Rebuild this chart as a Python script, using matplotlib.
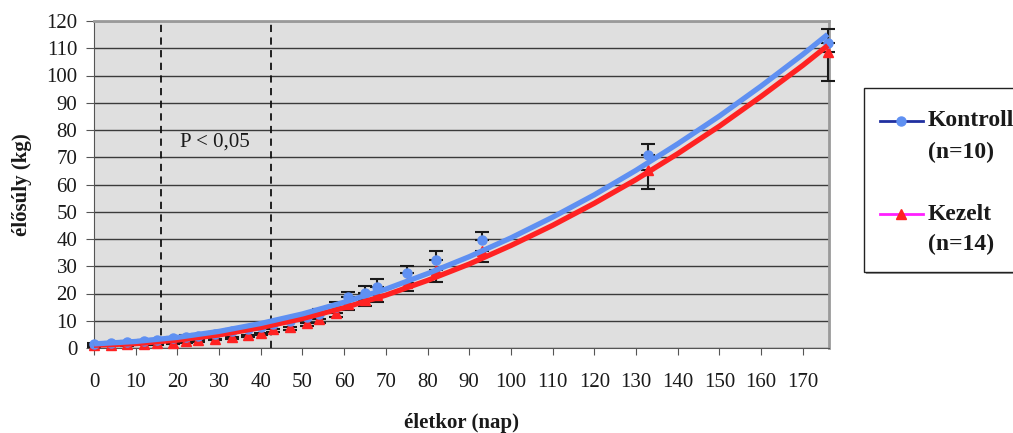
"""
Élősúly alakulása az életkor függvényében (Kontroll vs. Kezelt)
"""

import matplotlib
matplotlib.use('Agg')
import matplotlib.pyplot as plt
from matplotlib.patches import Rectangle
from matplotlib.lines import Line2D

plt.rcParams['font.family'] = ['Liberation Serif', 'DejaVu Serif']
plt.rcParams['font.size'] = 15

COLORS = {
    'blue': '#5F90F2',
    'red': '#FF2222',
    'navy': '#2030A0',
    'magenta': '#FF20FF',
    'plot_bg': '#DFDFDF',
    'grid': '#3A3A3A',
    'frame': '#9A9A9A',
    'text': '#1A1A1A',
}

# measurement days
days = [0, 4, 8, 12, 15, 19, 22, 25, 29, 33, 37, 40, 43, 47, 51, 54,
        58, 61, 65, 68, 75, 82, 93, 133, 176]

# mean body weight (kg)
kontroll = [1.5, 1.8, 2.1, 2.5, 2.9, 3.5, 4.0, 4.5, 5.3, 6.1, 7.0, 7.8,
            8.7, 10.0, 11.3, 12.5, 15.0, 18.7, 20.2, 22.4, 27.5, 32.3,
            39.6, 70.8, 112.0]
kezelt = [1.0, 1.2, 1.4, 1.6, 1.8, 2.0, 2.4, 2.8, 3.4, 3.9, 4.6, 5.6,
          7.0, 7.8, 9.2, 10.6, 12.8, 16.0, 17.5, 19.5, 24.0, 28.5,
          35.5, 65.3, 108.6]

# error (kg): Kontroll shown upwards, Kezelt downwards
kontroll_err = [0.4, 0.4, 0.4, 0.5, 0.5, 0.5, 0.6, 0.6, 0.7, 0.7, 0.8, 0.8,
                0.9, 1.0, 1.2, 1.8, 1.9, 1.9, 2.6, 2.9, 2.6, 3.3, 3.0,
                4.1, 5.0]
kezelt_err = [0.5, 0.5, 0.5, 0.5, 0.6, 0.6, 0.6, 0.6, 0.6, 0.7, 0.7, 0.8,
              1.0, 1.2, 1.2, 1.4, 1.4, 2.1, 2.2, 2.6, 3.0, 4.3, 4.0,
              7.0, 10.6]

# trendlines
trend_x = [0, 10, 20, 30, 40, 50, 60, 70, 80, 90, 100, 110, 120, 130,
           140, 150, 160, 170, 176]
trend_kontroll = [1.5, 2.4, 3.9, 6.1, 9.0, 12.5, 16.8, 21.6, 27.3, 33.5,
                  40.4, 48.0, 56.2, 65.2, 74.9, 85.1, 96.1, 107.7, 115.1]
trend_kezelt = [1.0, 1.6, 2.9, 4.8, 7.5, 10.8, 14.8, 19.4, 24.8, 30.8,
                37.6, 45.0, 53.1, 61.8, 71.3, 81.4, 92.3, 103.7, 111.0]

# significance window (days)
sig_window = [16, 42.5]

fig = plt.figure(figsize=(10.13, 4.33), dpi=100)
ax = fig.add_axes([94 / 1013, 1 - 348 / 433, 735 / 1013, 327 / 433])
ax.set_facecolor(COLORS['plot_bg'])

ax.set_xlim(0, 176.3)
ax.set_ylim(0, 120)
ax.set_xticks(range(0, 171, 10))
ax.set_yticks(range(0, 121, 10))
ax.yaxis.grid(True, color=COLORS['grid'], lw=1.0)
ax.set_axisbelow(True)

for side in ['top', 'right']:
    ax.spines[side].set_color(COLORS['frame'])
    ax.spines[side].set_linewidth(2)
ax.spines['left'].set_color('#555555')
ax.spines['bottom'].set_color('#555555')
ax.tick_params(axis='x', direction='out', length=5, pad=13, colors='#555555',
               labelcolor=COLORS['text'], labelsize=15)
ax.tick_params(axis='y', direction='out', length=6, pad=6, colors='#555555',
               labelcolor=COLORS['text'], labelsize=15)

# significance window
for x in sig_window:
    ax.axvline(x, color='#111111', lw=1.3, ls=(0, (4, 3)), zorder=2)
ax.text(29, 75.5, 'P < 0,05', ha='center', va='center', fontsize=15,
        color=COLORS['text'])

# error bars and markers
zeros = [0] * len(days)
ax.errorbar(days, kezelt, yerr=[kezelt_err, zeros], fmt='^', color=COLORS['red'],
            ms=7.5, ecolor='#1A1A1A', elinewidth=1.5, capsize=5, capthick=1.5,
            zorder=3, clip_on=False)
ax.errorbar(days, kontroll, yerr=[zeros, kontroll_err], fmt='o', color=COLORS['blue'],
            ms=6.5, ecolor='#1A1A1A', elinewidth=1.5, capsize=5, capthick=1.5,
            zorder=3, clip_on=False)

# trendlines
ax.plot(trend_x, trend_kezelt, color=COLORS['red'], lw=3.8, zorder=4,
        solid_capstyle='butt', clip_on=False)
ax.plot(trend_x, trend_kontroll, color=COLORS['blue'], lw=3.8, zorder=5,
        solid_capstyle='butt', clip_on=False)

ax.set_xlabel('életkor (nap)', fontsize=15, fontweight='bold',
              color=COLORS['text'], labelpad=15)
ax.set_ylabel('élősúly (kg)', fontsize=15, fontweight='bold',
              color=COLORS['text'], labelpad=10)

# legend box (drawn by hand, it runs off the right edge)
W, H = 1013, 433


def fx(px):
    return px / W


def fy(py):
    return 1 - py / H


fig.patches.append(Rectangle((fx(866), fy(274)), fx(200), 186 / H,
                             transform=fig.transFigure, facecolor='#999999',
                             edgecolor='none', zorder=1))
fig.patches.append(Rectangle((fx(864), fy(272)), fx(200), 184 / H,
                             transform=fig.transFigure, facecolor='white',
                             edgecolor='#222222', lw=1.0, zorder=2))

entries = [
    ('Kontroll', '(n=10)', COLORS['navy'], COLORS['blue'], 'o', 6.5, 121, 152),
    ('Kezelt', '(n=14)', COLORS['magenta'], COLORS['red'], '^', 7.5, 214, 244),
]
for name, n_text, line_c, mark_c, marker, ms, y1, y2 in entries:
    fig.add_artist(Line2D([fx(880), fx(923)], [fy(y1), fy(y1)], color=line_c,
                          lw=2, transform=fig.transFigure, zorder=3))
    fig.add_artist(Line2D([fx(901)], [fy(y1)], marker=marker, ms=ms, color=mark_c,
                          ls='none', transform=fig.transFigure, zorder=4))
    fig.text(fx(928), fy(y1), name, ha='left', va='center', fontsize=17,
             fontweight='bold', color=COLORS['text'], zorder=4)
    fig.text(fx(928), fy(y2), n_text, ha='left', va='center', fontsize=17,
             fontweight='bold', color=COLORS['text'], zorder=4)

fig.savefig('out.png', dpi=100, facecolor='white')
print("[OK] Generated out.png")
